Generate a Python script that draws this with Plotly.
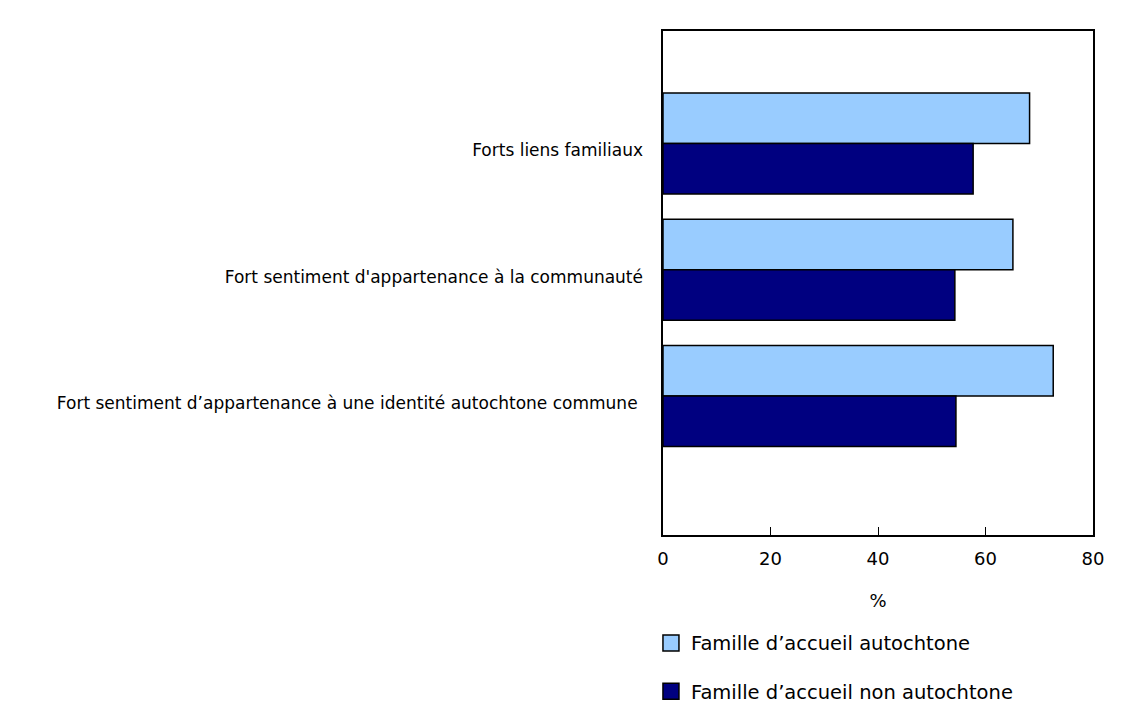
import plotly.graph_objects as go

categories = [
    "Forts liens familiaux",
    "Fort sentiment d'appartenance à la communauté",
    "Fort sentiment d’appartenance à une identité autochtone commune\u00a0",
]
series_names = ["Famille d’accueil autochtone", "Famille d’accueil non autochtone"]
autochtone = [68.2, 65.1, 72.6]
non_autochtone = [57.7, 54.3, 54.5]
colors = ["#99CCFF", "#000080"]

fig = go.Figure()

for name, values, color in zip(series_names, [autochtone, non_autochtone], colors):
    fig.add_trace(go.Bar(
        y=categories,
        x=values,
        orientation="h",
        name=name,
        showlegend=False,
        marker=dict(color=color, line=dict(color="#000000", width=1.5)),
    ))

# invisible trace carrying the category labels, sitting slightly below the bar centres
fig.add_trace(go.Scatter(
    x=[0] * len(categories),
    y=categories,
    yaxis="y2",
    mode="markers",
    marker=dict(opacity=0),
    showlegend=False,
    hoverinfo="skip",
))

# legend entries with larger square symbols
for i, (name, color) in enumerate(zip(series_names, colors)):
    fig.add_trace(go.Scatter(
        x=[None],
        y=[None],
        mode="markers",
        name=name,
        legendgroup=f"g{i}",
        marker=dict(symbol="square", size=16, color=color,
                    line=dict(color="#000000", width=1.5)),
    ))

fig.update_layout(
    width=1128,
    height=715,
    barmode="group",
    bargap=0.2,
    bargroupgap=0,
    plot_bgcolor="white",
    paper_bgcolor="white",
    font=dict(family="DejaVu Sans, Verdana, sans-serif", color="#000000"),
    margin=dict(l=655, r=43, t=23, b=185),
    xaxis=dict(
        range=[0, 80],
        dtick=20,
        ticks="inside",
        ticklen=8,
        tickcolor="#000000",
        ticklabelstandoff=7,
        showgrid=False,
        zeroline=False,
        showline=True,
        linecolor="#000000",
        linewidth=1.5,
        mirror=True,
        tickfont=dict(size=18),
        title=dict(text="%", font=dict(size=18), standoff=26),
    ),
    yaxis=dict(
        type="category",
        categoryorder="array",
        categoryarray=categories,
        range=[3.1, -0.89],
        showgrid=False,
        zeroline=False,
        showline=True,
        linecolor="#000000",
        linewidth=1.5,
        mirror=True,
        ticks="",
        showticklabels=False,
    ),
    yaxis2=dict(
        type="category",
        categoryorder="array",
        categoryarray=categories,
        overlaying="y",
        side="left",
        range=[3.045, -0.945],
        showgrid=False,
        zeroline=False,
        showline=False,
        ticks="",
        ticklabelstandoff=19,
        tickfont=dict(size=17),
    ),
    legend=dict(
        x=-0.028,
        xanchor="left",
        y=-0.176,
        yanchor="top",
        orientation="v",
        traceorder="grouped",
        tracegroupgap=20,
        itemsizing="trace",
        font=dict(size=19.5),
        bgcolor="rgba(0,0,0,0)",
    ),
    showlegend=True,
)

fig.write_html("out.html")
